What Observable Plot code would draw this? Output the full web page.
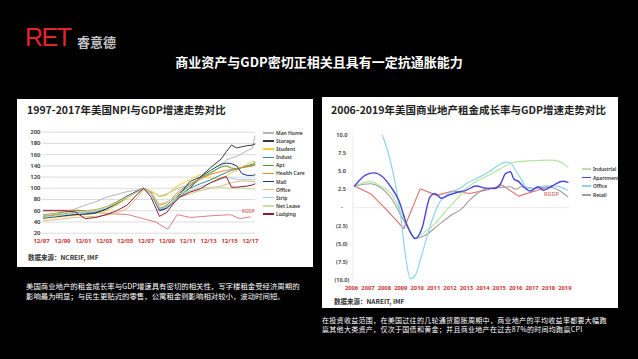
<!DOCTYPE html>
<html><head><meta charset="utf-8">
<script src="https://cdn.jsdelivr.net/npm/d3@7"></script>
<script src="https://cdn.jsdelivr.net/npm/@observablehq/plot@0.6"></script>
<style>
html,body{margin:0;padding:0;background:#000;}
body{width:638px;height:359px;position:relative;overflow:hidden;font-family:"Noto Sans CJK SC","Noto Sans",sans-serif;}
.abs{position:absolute;line-height:1;white-space:nowrap;}
.panel{position:absolute;background:#fff;overflow:hidden;}
.ptitle{font-size:10.5px;font-weight:700;color:#222;}
.src{font-size:6.5px;font-weight:700;color:#333;}
.note{color:#fff;white-space:nowrap;}
.leg{position:absolute;}
.leg div{display:flex;align-items:center;white-space:nowrap;color:#333;font-weight:600;font-family:"Noto Sans",sans-serif;}
.leg span.sw{display:inline-block;height:1.5px;flex:none;}
</style></head><body>
<div class="abs" style="left:25px;top:25px;color:#e3242b;font-family:'Liberation Sans',Arial,sans-serif;font-size:25px;letter-spacing:-1.5px;">RET</div>
<div class="abs" style="left:77px;top:35px;color:#c4c4c4;font-size:13px;font-weight:700;">睿意德</div>
<div class="abs" style="left:0;top:54.8px;width:638px;text-align:center;color:#fff;font-size:13px;font-weight:700;">商业资产与GDP密切正相关且具有一定抗通胀能力</div>

<div class="panel" style="left:17px;top:99px;width:296px;height:168px;"></div>
<div class="panel" style="left:322px;top:97px;width:296px;height:211px;"></div>

<div class="abs ptitle" style="left:27px;top:104.8px;">1997-2017年美国NPI与GDP增速走势对比</div>
<div class="abs ptitle" style="left:331px;top:104.8px;">2006-2019年美国商业地产租金成长率与GDP增速走势对比</div>
<div class="abs src" style="left:28px;top:254.4px;">数据来源：NCREIF, IMF</div>
<div class="abs src" style="left:334px;top:298.4px;">数据来源：NAREIT, IMF</div>

<div class="abs note" style="left:26px;top:281.3px;font-size:7.4px;line-height:10px;">美国商业地产的租金成长率与GDP增速具有密切的相关性，写字楼租金受经济周期的<br>影响最为明显；与民生更贴近的零售，公寓租金则影响相对较小，波动时间短。</div>
<div class="abs note" style="left:322px;top:316.3px;font-size:7px;line-height:8.6px;letter-spacing:0.3px;">在投资收益范围，在美国过往的几轮通货膨胀周期中，商业地产的平均收益率都要大幅跑<br>赢其他大类资产，仅次于国债和黄金；并且商业地产在过去87%的时间均跑赢CPI</div>

<div id="legL" class="leg" style="left:263px;top:128.95px;"></div>
<div id="legR" class="leg" style="left:582px;top:164.7px;"></div>

<script>
// ---------- Left chart: NPI vs GDP (t = years since 12/97) ----------
const leftTicks = [0,2,4,6,8,10,12,14,16,18,20];
const leftTickLabels = ["12/97","12/99","12/01","12/03","12/05","12/07","12/09","12/11","12/13","12/15","12/17"];
const leftYTicks = [20,40,60,80,100,120,140,160,180,200];
const tGrid = [0,1,2,3,4,5,6,7,8,9,9.6,10.3,11.1,11.8,12.5,13,14,15,16,17,17.5,18,18.5,19,19.5,20,20.25];
const manHome   = [50,53,57,63,70,76,84,89,94,97,99,95,86,90,97,101,106,115,126,140,151,154,157,162,167,171,193];
const storage   = [47,49,51,53,54,56,63,72,84,95,100,92,63,67,76,84,100,120,137,152,165,177,172,174,176,177,179];
const student   = [46,48,50,52,53,55,60,70,82,94,100,95,85,88,100,106,116,124,118,118,122,128,132,137,143,148,147];
const indust    = [52,53,55,57,57,58,63,73,85,95,100,90,61,65,78,88,100,108,115,124,128,132,134,137,140,143,146];
const apt       = [53,55,58,60,60,61,66,75,86,95,100,92,64,70,82,92,104,118,128,138,140,136,135,137,139,141,143];
const healthCare= [50,52,55,58,60,62,67,76,86,95,100,94,70,74,86,95,108,117,125,130,132,134,135,137,138,140,141];
const mall      = [47,49,51,53,54,56,63,74,86,95,100,92,60,64,76,88,112,120,132,143,145,144,140,126,123,123,124];
const office    = [42,44,46,48,49,50,52,56,64,84,98,90,66,68,76,84,90,96,100,104,107,110,112,113,113,112,112];
const strip     = [48,50,53,56,57,59,65,74,85,94,100,91,63,67,78,86,95,103,110,116,119,118,116,116,116,115,116];
const netLease  = [52,54,56,58,59,61,66,74,84,93,100,93,72,76,84,90,96,100,102,102,101,100,100,100,99,99,99];
const lodging   = [60,60,60,58,46,48,53,60,70,90,100,84,50,57,74,84,93,99,110,118,121,102,102,103,104,106,108];
const rgdpLeftT = [0,3.3,5.5,8.1,10.75,11.9,12.8,14.1,16,17.9,18.8,19.8];
const rgdpLeftV = [61,61,56,53,40,27,53,48,51,53,46,49];

const npiNames  = ["Man Home","Storage","Student","Indust","Apt","Health Care","Mall","Office","Strip","Net Lease","Lodging"];
const npiColors = ["#b5b5b5","#3a3a3a","#f3d12a","#2f8aa2","#5b9e30","#e98a2c","#1c3e6e","#d9bd7f","#a6cbe4","#c2e0a6","#8c1b2f"];
const npiValues = [manHome,storage,student,indust,apt,healthCare,mall,office,strip,netLease,lodging];
const rgdpColor = "#dc6f6f";
const axisRed = "#cc3434";

const npiRows = npiNames.flatMap((name,i)=>tGrid.map((t,j)=>({t, v:npiValues[i][j], s:name})));
const rgdpRows = rgdpLeftT.map((t,i)=>({t, v:rgdpLeftV[i]}));

const baseStyle = {background:"transparent", fontFamily:"'Noto Sans','Noto Sans CJK SC',sans-serif", overflow:"visible"};

const leftChart = Plot.plot({
  width:296, height:130,
  marginLeft:25, marginRight:58, marginTop:11.7, marginBottom:17.3,
  x:{domain:[-0.1,20.3], label:null},
  y:{domain:[20,200], label:null},
  color:{domain:npiNames, range:npiColors},
  style:baseStyle,
  marks:[
    Plot.gridY(leftYTicks, {stroke:"#d8d8d8", strokeOpacity:1, strokeWidth:0.9}),
    Plot.axisY(leftYTicks, {tickSize:0, tickPadding:2, fontSize:6, fill:"#333", fontWeight:600, label:null}),
    Plot.axisX(leftTicks, {tickSize:0, tickPadding:6, dx:-2, tickFormat:d=>leftTickLabels[leftTicks.indexOf(d)], fill:axisRed, fontSize:6, fontWeight:700, label:null}),
    Plot.line(rgdpRows, {x:"t", y:"v", stroke:rgdpColor, strokeWidth:0.9}),
    Plot.line(npiRows, {x:"t", y:"v", z:"s", stroke:"s", strokeWidth:1}),
    Plot.text(rgdpRows.slice(-1), {x:"t", y:"v", text:()=>"RGDP", dy:-5, dx:-2, fontSize:4.6, fill:rgdpColor, fontWeight:600})
  ]
});
leftChart.style.position = "absolute";
leftChart.style.left = "17px";
leftChart.style.top = "120px";
document.body.appendChild(leftChart);

// left legend
const legL = document.getElementById("legL");
npiNames.forEach((n,i)=>{
  const d = document.createElement("div");
  d.style.height = "8.1px";
  d.style.fontSize = "5px";
  d.innerHTML = `<span class="sw" style="width:11px;background:${npiColors[i]};margin-right:2px"></span>${n}`;
  legL.appendChild(d);
});

// ---------- Right chart: rent growth 2006-2019 ----------
const years = [2006,2007,2008,2009,2010,2011,2012,2013,2014,2015,2016,2017,2018,2019];
const rightYTicks = [10,7.5,5,2.5,0,-2.5,-5,-7.5,-10];
const industrialX = [2006.0,2006.98,2007.5,2008.3,2008.9,2009.4,2009.7,2010.3,2010.9,2011.5,2012.2,2012.8,2013.4,2014.2,2015.0,2015.6,2016.2,2017.2,2018.0,2018.45,2019.0];
const industrialY = [3.0,3.6,3.1,1.7,-1.0,-3.3,-4.15,-3.3,-2.2,-0.6,1.1,2.65,3.6,4.5,5.5,6.2,6.4,6.5,6.55,6.4,5.6];
const apartmentX = [2006.0,2006.67,2007.18,2007.69,2008.2,2008.7,2009.2,2009.7,2010.1,2010.6,2010.9,2011.3,2011.7,2012.4,2012.8,2013.4,2014.0,2014.5,2014.9,2015.2,2015.5,2015.7,2016.0,2016.3,2016.7,2017.2,2017.5,2017.8,2018.2,2018.7,2019.0];
const apartmentY = [3.0,4.5,4.8,4.3,2.9,1.0,-2.4,-4.25,-2.9,1.5,1.95,1.3,1.7,2.2,2.4,3.0,2.7,2.65,3.3,4.7,4.95,4.0,3.6,2.9,2.3,2.9,2.4,2.65,3.2,3.65,3.5];
const officeX = [2007.7,2008.1,2008.5,2008.8,2009.1,2009.4,2009.7,2010.1,2010.7,2011.2,2011.95,2012.5,2012.8,2013.4,2014.2,2014.8,2015.2,2015.5,2015.8,2016.2,2016.5,2017.0,2017.6,2018.2,2019.0];
const officeY = [10.0,7.2,3.1,-1.0,-6.5,-9.8,-9.3,-6.5,-1.9,0.8,2.2,2.8,3.3,4.0,4.95,5.9,6.3,6.2,5.2,3.8,2.7,2.7,3.0,3.0,2.4];
const retailX = [2006.0,2006.98,2007.5,2008.3,2008.9,2009.4,2009.7,2010.3,2011.1,2011.9,2012.5,2013.0,2013.5,2014.0,2014.8,2015.5,2015.8,2016.2,2017.0,2017.8,2018.45,2019.0];
const retailY = [3.0,3.3,2.9,1.1,-1.4,-3.3,-4.25,-3.8,-2.4,-1.0,-0.2,1.0,2.0,2.6,2.75,2.9,2.55,2.9,2.65,2.9,2.4,1.5];
const rgdpRightX = [2006,2007,2008,2009,2010,2011,2012,2013,2014,2015,2016,2017,2018];
const rgdpRightY = [3.0,1.9,-0.4,-2.9,2.6,1.7,2.3,1.95,2.4,3.1,1.6,2.3,3.0];

const rentNames = ["Industrial","Apartment","Office","Retail"];
const rentColors = ["#b6e5a1","#4646dd","#8dd6ec","#9e9e9e"];
const rentX = [industrialX, apartmentX, officeX, retailX];
const rentY = [industrialY, apartmentY, officeY, retailY];
const rentWidths = [1.2,1.4,1.2,1.1];
const xDomainR = [2005.9, 2019.1];

const rows = (xs, ys)=>xs.map((x,i)=>({x, y:ys[i]}));
const yFmt = v => v === 0 ? "-" : (v < 0 ? `(${(-v).toFixed(1)})` : v.toFixed(1));

const rentLines = [3,0,2,1].map(i => Plot.line(rows(rentX[i], rentY[i]), {x:"x", y:"y", stroke:rentColors[i], strokeWidth:rentWidths[i], curve:"monotone-x"}));
const rgdpR = rows(rgdpRightX, rgdpRightY);

const rightChart = Plot.plot({
  width:296, height:175,
  marginLeft:30.4, marginRight:49, marginTop:9.7, marginBottom:20.3,
  x:{domain:xDomainR, label:null},
  y:{domain:[-10,10], axis:null, label:null},
  style:baseStyle,
  marks:[
    Plot.ruleX([xDomainR[0]], {stroke:"#e4e4e4", strokeWidth:0.8}),
    Plot.ruleY([0], {stroke:"#e6e6e6", strokeWidth:0.9}),
    Plot.text(rightYTicks, {y:d=>d, text:yFmt, frameAnchor:"left", textAnchor:"middle", dx:-11, fontSize:5.6, fill:"#333", fontWeight:600}),
    Plot.axisX(years, {tickSize:0, tickPadding:5.5, dx:-3, tickFormat:d=>String(d), fill:axisRed, fontSize:5.8, fontWeight:700, label:null}),
    Plot.line(rgdpR, {x:"x", y:"y", stroke:rgdpColor, strokeWidth:1.1}),
    ...rentLines,
    Plot.text(rgdpR.slice(-1), {x:"x", y:"y", text:()=>"RGDP", dy:8, fontSize:5.5, fill:rgdpColor, fontWeight:600})
  ]
});
rightChart.style.position = "absolute";
rightChart.style.left = "322px";
rightChart.style.top = "125px";
document.body.appendChild(rightChart);

// right legend
const legR = document.getElementById("legR");
rentNames.forEach((n,i)=>{
  const d = document.createElement("div");
  d.style.height = "8.6px";
  d.style.fontSize = "4.9px";
  d.innerHTML = `<span class="sw" style="width:9px;background:${rentColors[i]};margin-right:2px"></span>${n}`;
  legR.appendChild(d);
});
</script>
</body></html>
